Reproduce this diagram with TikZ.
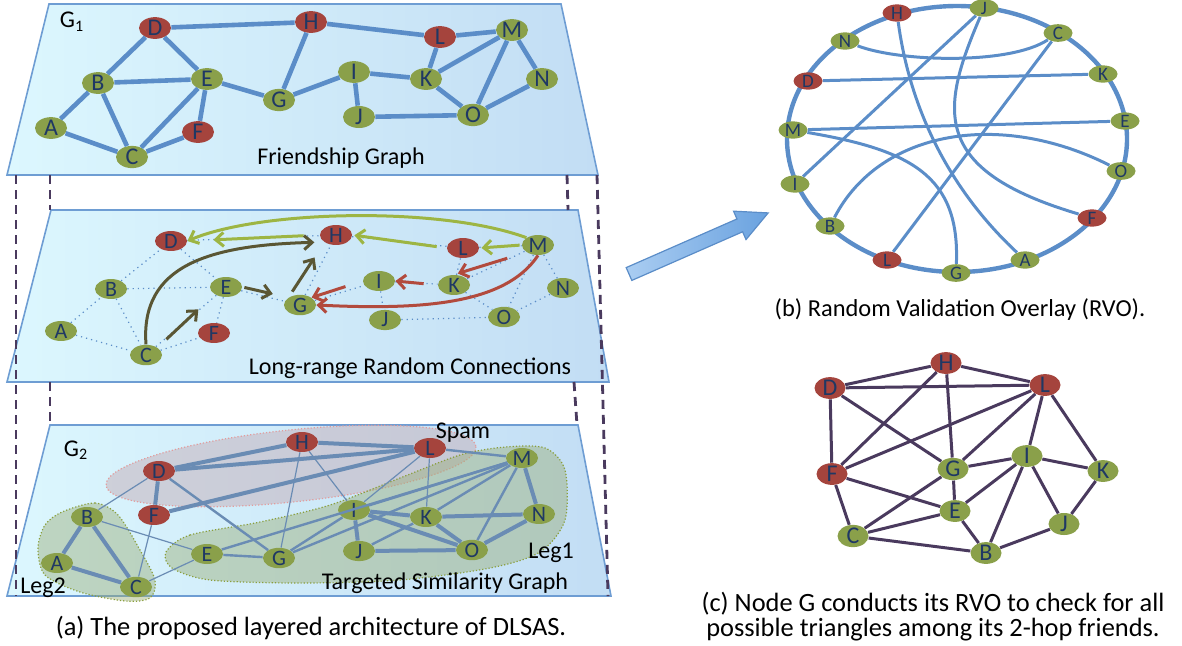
\documentclass[tikz,border=0pt]{standalone}
\usepackage{fontspec}
\setmainfont{Carlito}
\usetikzlibrary{shapes.geometric,arrows.meta,calc}
\definecolor{vgreen}{HTML}{8AA04A}
\definecolor{vred}{HTML}{A5443D}
\definecolor{vtext}{HTML}{1F3864}
\definecolor{fblue}{HTML}{5B8DC8}
\definecolor{sblue}{HTML}{6A8CB4}
\definecolor{lcyan}{HTML}{DCF7FE}
\definecolor{lblue}{HTML}{C2DDF4}
\definecolor{lborder}{HTML}{6E9DD3}
\definecolor{purp}{HTML}{4A3A5E}
\definecolor{oliv}{HTML}{9DB543}
\definecolor{doliv}{HTML}{5A5634}
\definecolor{redarr}{HTML}{B24A3D}
\definecolor{spamc}{HTML}{C6B4BE}
\definecolor{spamb}{HTML}{E29C9C}
\definecolor{legc}{HTML}{9AAE78}
\definecolor{legb}{HTML}{8A9E3C}
\definecolor{bigl}{HTML}{AACDF2}
\definecolor{bigr}{HTML}{6AA2DF}

\begin{document}
\begin{tikzpicture}[x=0.5pt, y=-0.5pt, font=\fontsize{12}{13}\selectfont,
  layer/.style={draw=lborder, line width=0.8pt, left color=lcyan, right color=lblue},
  guide/.style={purp, line width=1.4pt, dash pattern=on 4.5pt off 3pt},
  vtx/.style={ellipse, inner sep=0pt, minimum width=16pt, minimum height=9pt, text=vtext, font=\fontsize{11}{11}\selectfont},
  rvtx/.style={vtx, minimum width=14.5pt, minimum height=7.5pt, font=\fontsize{9.5}{9.5}\selectfont},
  fedge/.style={fblue, line width=2.3pt},
  dedge/.style={fblue, line width=0.6pt, dotted},
  spam/.style={fill=spamc, fill opacity=0.55, draw=spamb, densely dotted, line width=0.6pt},
  leg/.style={fill=legc, fill opacity=0.45, draw=legb, densely dotted, line width=0.6pt},
  garr/.style={oliv, line width=1.5pt, -{Straight Barb[length=4pt,width=7pt]}},
  darr/.style={doliv, line width=1.5pt, -{Straight Barb[length=4pt,width=7pt]}},
  rarr/.style={redarr, line width=1.5pt, -{Straight Barb[length=4pt,width=7pt]}},
  chord/.style={fblue, line width=1.5pt},
  tedge/.style={purp, line width=1.5pt},
  captxt/.style={font=\fontsize{13.2}{12.5}\selectfont, align=center}]
\useasboundingbox (0,0) rectangle (1182,645);
% the three layers
\shade[layer] (49,4) -- (561,4) -- (598,175) -- (7,175) -- cycle;
\shade[layer] (51,210) -- (578,210) -- (609,382) -- (7,382) -- cycle;
\shade[layer] (50,425) -- (578,425) -- (611,596) -- (7,596) -- cycle;
\draw[guide] (16,175) -- (16,596);
\draw[guide] (597,175) -- (608,596);
\draw[guide] (50,175) -- (50,210) (50,382) -- (50,425);
\draw[guide] (567,175) -- (568,210) (574,382) -- (577,425);

% G1: friendship graph
\node (g1) at (72,22) {G\textsubscript{1}};
\node (fg) at (341,158) {Friendship Graph};
\foreach \n/\x/\y/\cl in {A/51/128/vgreen, B/98/83/vgreen, C/132/157/vgreen, D/155/28/vred,
  E/207/79/vgreen, F/198/132/vred, G/279/100/vgreen, H/311/22/vred, I/354/72/vgreen,
  J/359/117/vgreen, K/426/79/vgreen, L/440/37/vred, M/512/30/vgreen, N/542/79/vgreen, O/473/115/vgreen}
  \node[vtx, minimum height=10.5pt, font=\fontsize{12}{12}\selectfont, fill=\cl] (\n1) at (\x,\y) {\n};
\foreach \a/\b in {D/H, H/L, L/M, B/D, D/E, B/E, A/B, B/C, A/C, C/E, E/F, C/F, E/G, G/H,
  G/I, I/K, I/J, J/O, K/L, K/M, K/O, M/O, M/N, N/O}
  \draw[fedge] (\a1) -- (\b1);

% long-range random connections
\node (lr) at (410,368) {Long-range Random Connections};
\foreach \n/\x/\y/\cl in {A/61/331/vgreen, B/111/289/vgreen, C/146/355/vgreen, D/171/241/vred,
  E/226/287/vgreen, F/214/333/vred, G/300/305/vgreen, H/336/235/vred, I/379/281/vgreen,
  J/385/320/vgreen, K/454/285/vgreen, L/463/248/vred, M/538/245/vgreen, N/563/288/vgreen, O/504/317/vgreen}
  \node[vtx, fill=\cl] (\n2) at (\x,\y) {\n};
\foreach \a/\b in {D/H, H/L, L/M, B/D, D/E, B/E, A/B, B/C, A/C, C/E, E/F, C/F, E/G, G/H,
  G/I, I/K, I/J, J/O, K/L, K/M, K/O, M/O, M/N, N/O}
  \draw[dedge] (\a2) -- (\b2);
\draw[garr] (M2.north west) .. controls (440,206) and (260,210) .. (D2.east);
\draw[garr, shorten <=8pt, shorten >=13pt] (H2.west) -- (D2.east);
\draw[garr, shorten <=1pt, shorten >=1pt] (M2.west) -- (L2.east);
\draw[garr, shorten <=5pt, shorten >=1pt] (L2.west) -- (H2.east);
\draw[darr] (C2.north) .. controls (140,265) and (210,245) .. ([xshift=-5pt]H2.south west);
\draw[darr, shorten <=6pt, shorten >=11pt] (C2.north east) -- (E2.south west);
\draw[darr, shorten <=1pt, shorten >=8pt] (E2.east) -- (G2.north west);
\draw[darr, shorten <=3.5pt, shorten >=9pt] (G2.north west) -- (H2.south west);
\draw[rarr, shorten <=10pt, shorten >=2pt] (M2.south west) -- (K2.north);
\draw[rarr, shorten <=7pt] (K2.west) -- (I2.east);
\draw[rarr, shorten <=9pt] (I2.west) -- (G2.north east);
\draw[rarr] (M2.south) .. controls (505,305) and (420,310) .. (G2.east);

% G2: targeted similarity graph
\draw[spam, rotate around={6:(291,466)}] (291,466) ellipse [x radius=186, y radius=36];
\draw[leg] plot[smooth cycle] coordinates {(166,552) (190,535) (260,522) (330,505) (400,478)
  (460,455) (505,447) (545,448) (565,470) (565,520) (540,552) (490,568) (400,580) (300,583)
  (210,580) (172,568)};
\draw[leg] plot[smooth cycle] coordinates {(62,512) (95,503) (118,515) (140,550) (155,580)
  (150,598) (125,601) (80,592) (45,575) (38,548) (45,525)};
\node (g2) at (76,450) {G\textsubscript{2}};
\node (spm) at (463,433) {Spam};
\node (leg1) at (551,553) {Leg1};
\node (leg2) at (43,588) {Leg2};
\node (tsg) at (445,583) {Targeted Similarity Graph};
\foreach \n/\x/\y/\cl in {A/57/563/vgreen, B/87/517/vgreen, C/136/587/vgreen, D/159/471/vred,
  E/207/554/vgreen, F/154/515/vred, G/279/558/vgreen, H/302/442/vred, I/354/510/vgreen,
  J/359/551/vgreen, K/426/517/vgreen, L/430/448/vred, M/522/458/vgreen, N/539/514/vgreen, O/472/550/vgreen}
  \node[vtx, fill=\cl] (\n3) at (\x,\y) {\n};
\foreach \a/\b/\w in {D/H/2, H/L/2, D/L/2, F/L/2, D/F/2, A/B/2, B/C/2, A/C/2, I/J/2, I/K/2,
  I/O/2, K/N/2, K/O/2, J/O/2, N/O/2, M/N/2, D/G/1.2, M/O/1.2, L/M/1.2, K/J/1.2, E/G/1.2,
  G/I/1.2, E/M/1.2, G/M/1.2, I/M/1.2, K/M/1.2, H/G/0.6, H/I/0.6, L/K/0.6, L/I/0.6, D/B/0.6,
  B/E/0.6, F/C/0.6, C/E/0.6}
  \draw[sblue, line width=\w pt] (\a3) -- (\b3);
\node[captxt] (capa) at (311,628) {(a) The proposed layered architecture of DLSAS.};

% arrow towards the overlay
\begin{scope}[shift={(629,274)}, rotate=23.7]
  \shade[left color=bigl, right color=bigr, draw=fblue, line width=0.6pt]
    (0,-7) -- (121,-7) -- (121,-15.5) -- (152,0) -- (121,15.5) -- (121,7) -- (0,7) -- cycle;
\end{scope}

% random validation overlay
\draw[fblue, line width=2.2pt] (957,139) ellipse [x radius=170, y radius=133];
\foreach \n/\x/\y/\cl in {H/897/13/vred, J/984/8/vgreen, C/1058/33/vgreen, N/845/41/vgreen,
  K/1103/74/vgreen, D/808/81/vred, E/1125/121/vgreen, M/793/130/vgreen, O/1121/171/vgreen,
  I/795/184/vgreen, F/1092/218/vred, B/830/226/vgreen, L/887/260/vred, A/1025/260/vgreen, G/956/273/vgreen}
  \node[rvtx, fill=\cl] (\n r) at (\x,\y) {\n};
\draw[chord] (Nr) .. controls (900,62) and (1010,65) .. (Cr);
\draw[chord] (Dr) -- (Kr);
\draw[chord] (Mr) -- (Er);
\draw[chord] (Mr) .. controls (910,150) and (960,175) .. (Gr);
\draw[chord] (Ir) -- (Jr);
\draw[chord] (Br) .. controls (880,130) and (1000,110) .. (Or);
\draw[chord] (Lr) -- (Cr);
\draw[chord] (Hr) .. controls (910,110) and (950,190) .. (Ar);
\draw[chord] (Jr) .. controls (940,110) and (930,170) .. (Fr);
\node[captxt, font=\fontsize{12.2}{12.5}\selectfont] (capb) at (960,310) {(b) Random Validation Overlay (RVO).};

% triangles around G
\foreach \n/\x/\y/\cl in {H/946/363/vred, D/830/388/vred, L/1045/385/vred, I/1027/456/vgreen,
  G/953/469/vgreen, K/1103/471/vgreen, F/832/474/vred, E/955/511/vgreen, J/1064/524/vgreen,
  C/853/536/vgreen, B/986/553/vgreen}
  \node[vtx, minimum width=15.5pt, minimum height=10pt, font=\fontsize{12}{12}\selectfont, fill=\cl] (\n t) at (\x,\y) {\n};
\foreach \a/\b in {D/H, D/L, D/F, D/G, H/L, H/F, H/G, L/F, L/G, L/I, L/K, F/C, F/E, G/C,
  G/E, G/I, I/E, I/B, I/K, I/J, K/J, E/C, E/B, C/B, B/J}
  \draw[tedge] (\a t) -- (\b t);
\node[captxt] (capc) at (933,617) {(c) Node G conducts its RVO to check for all\\possible triangles among its 2-hop friends.};
\end{tikzpicture}
\end{document}
